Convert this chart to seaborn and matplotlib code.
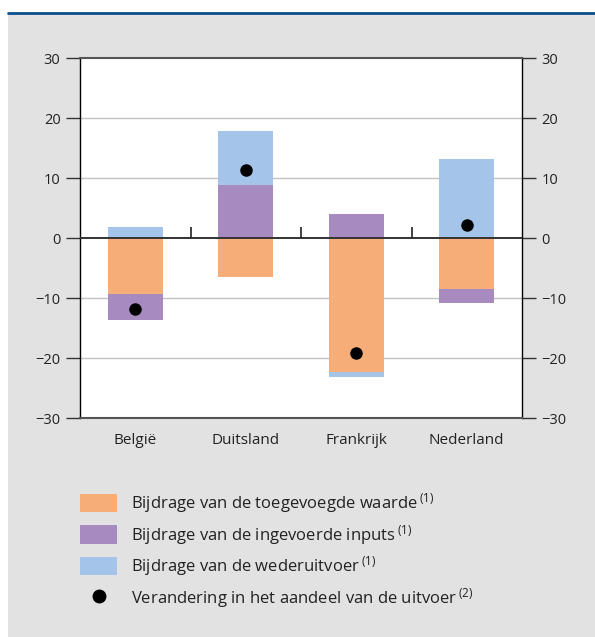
import numpy as np
import pandas as pd
import matplotlib
matplotlib.use("Agg")
import matplotlib.pyplot as plt
from matplotlib.patches import Patch, Rectangle
from matplotlib.lines import Line2D
import seaborn as sns

# ---- data ----
categories = ["België", "Duitsland", "Frankrijk", "Nederland"]
toegevoegde_waarde = [-9.3, -6.5, -22.3, -8.5]
ingevoerde_inputs = [-4.4, 8.8, 4.0, -2.3]
wederuitvoer = [1.8, 9.0, -0.8, 13.1]
verandering_aandeel = [-11.9, 11.3, -19.1, 2.1]
yticks = [-30, -20, -10, 0, 10, 20, 30]

series_labels = [
    "Bijdrage van de toegevoegde waarde",
    "Bijdrage van de ingevoerde inputs",
    "Bijdrage van de wederuitvoer",
]
dot_label = "Verandering in het aandeel van de uitvoer"
notes = ["(1)", "(1)", "(1)", "(2)"]
colors = ["#F6AD78", "#A78AC0", "#A4C4E9"]

sns.set_theme(style="white")
plt.rcParams["font.family"] = ["Open Sans", "DejaVu Sans"]
plt.rcParams["axes.unicode_minus"] = True

W, H = 595, 637
fig = plt.figure(figsize=(W / 100, H / 100), dpi=100, facecolor="white")

# background panel and top rule
fig.add_artist(Rectangle((8 / W, 0), 1 - 8 / W, 1 - 14 / H, transform=fig.transFigure,
                         facecolor="#E2E2E2", edgecolor="none", zorder=-10))
fig.add_artist(Line2D([8 / W, 1], [1 - 13 / H, 1 - 13 / H], transform=fig.transFigure,
                      color="#0D4C8F", lw=2, zorder=-5))

ax = fig.add_axes([80 / W, 1 - 418 / H, (522 - 80) / W, (418 - 58) / H])
ax.set_facecolor("white")

# stacked bars, positive and negative stacked separately
df = pd.DataFrame({"cat": categories})
pos_base = np.zeros(len(categories))
neg_base = np.zeros(len(categories))
for vals, col in zip([toegevoegde_waarde, ingevoerde_inputs, wederuitvoer], colors):
    v = np.array(vals, dtype=float)
    pos = np.where(v > 0, v, 0.0)
    neg = np.where(v < 0, v, 0.0)
    df["v"] = pos
    sns.barplot(data=df, x="cat", y="v", color=col, saturation=1, width=0.5,
                errorbar=None, bottom=pos_base.copy(), linewidth=0, ax=ax, zorder=2)
    df["v"] = neg
    sns.barplot(data=df, x="cat", y="v", color=col, saturation=1, width=0.5,
                errorbar=None, bottom=neg_base.copy(), linewidth=0, ax=ax, zorder=2)
    pos_base += pos
    neg_base += neg

sns.stripplot(x=categories, y=verandering_aandeel, color="black", size=9,
              jitter=False, ax=ax, zorder=5)

ax.set_ylim(-30, 30)
ax.set_xlim(-0.5, len(categories) - 0.5)
ax.set_yticks(yticks)
ax.set_xlabel("")
ax.set_ylabel("")
for t in yticks:
    if t not in (-30, 0, 30):
        ax.axhline(t, color="#C2C2C2", lw=1, zorder=1)
ax.axhline(0, color="#333333", lw=1.4, zorder=4)
ax.vlines(np.arange(len(categories) - 1) + 0.5, 0, 1.8, color="#222222", lw=1.2, zorder=4)

for side in ["left", "right"]:
    ax.spines[side].set_color("black")
    ax.spines[side].set_linewidth(1.0)
    ax.spines[side].set_visible(True)
for side in ["top", "bottom"]:
    ax.spines[side].set_color("#555555")
    ax.spines[side].set_linewidth(1.5)
    ax.spines[side].set_visible(True)

ax.tick_params(axis="y", which="both", left=True, right=True, labelleft=True, labelright=True,
               length=10, width=1, color="#333333", pad=4, labelsize=10.5, labelcolor="#222222",
               direction="out")
ax.tick_params(axis="x", length=0, pad=11, labelsize=11, labelcolor="#222222")

# legend
handles = [Patch(facecolor=c, edgecolor="none") for c in colors]
handles.append(Line2D([], [], marker="o", color="black", linestyle="none", markersize=9))
labels = [f"{t}$\\mathregular{{\\,^{{{n}}}}}$" for t, n in zip(series_labels + [dot_label], notes)]
fig.legend(handles, labels, loc="upper left", bbox_to_anchor=(80 / W, 1 - 491 / H),
           frameon=False, fontsize=12, handlelength=2.22, handleheight=1.3,
           handletextpad=0.84, labelspacing=0.47, borderpad=0, borderaxespad=0,
           labelcolor="#222222")

fig.savefig("out.png", dpi=100, facecolor=fig.get_facecolor())
